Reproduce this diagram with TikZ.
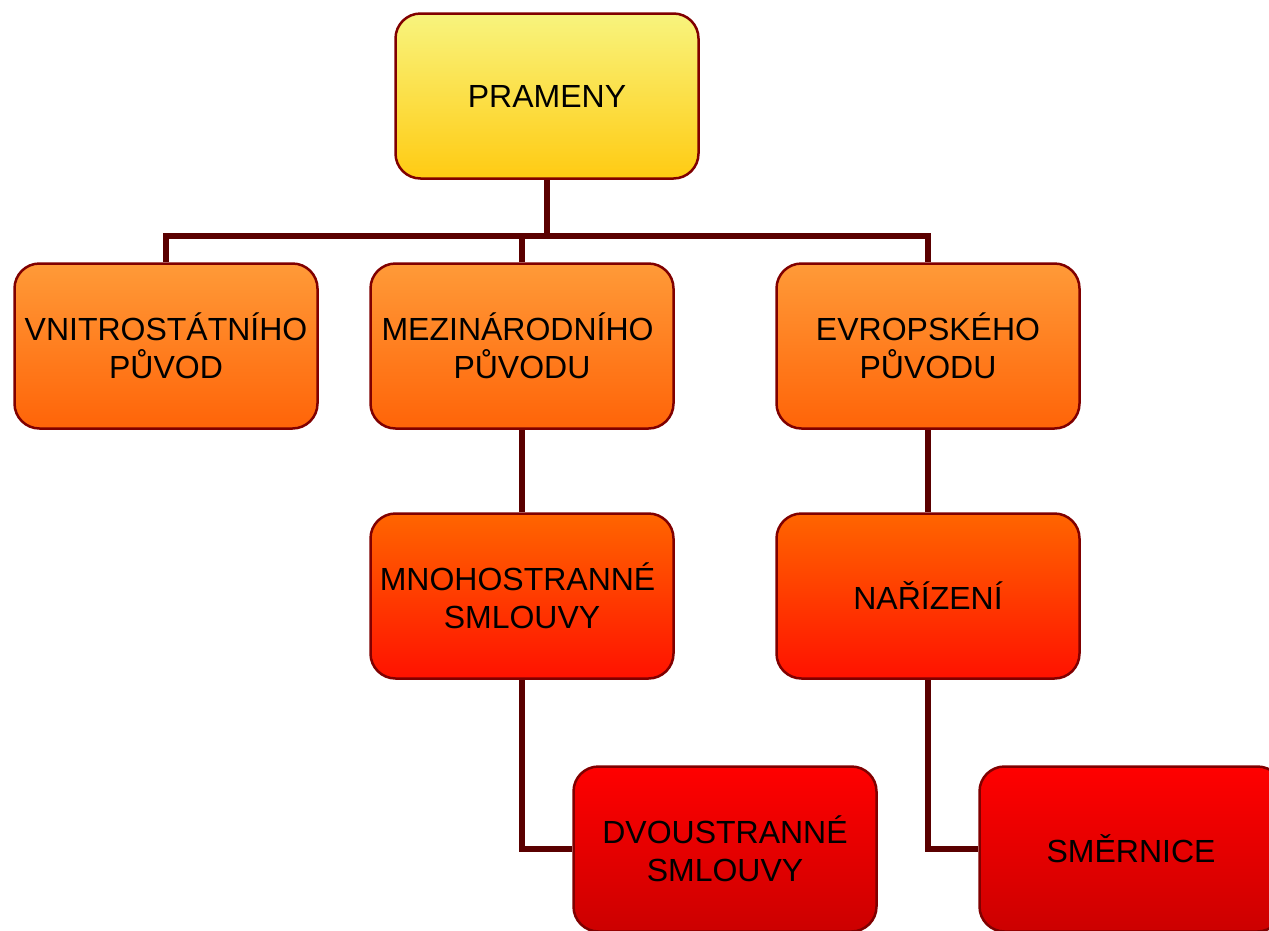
\documentclass[tikz,border=0pt]{standalone}
\usepackage{fontspec}
\setmainfont{Liberation Sans}
\usepackage{tikz}
\usepackage{xcolor}
\usetikzlibrary{backgrounds}
\definecolor{boxline}{HTML}{800000}
\definecolor{linkcol}{HTML}{5A0000}
\definecolor{zerotop}{HTML}{F8F47E}
\definecolor{zerobot}{HTML}{FFCB12}
\definecolor{onetop}{HTML}{FF9A38}
\definecolor{onebot}{HTML}{FF6408}
\definecolor{twotop}{HTML}{FF6500}
\definecolor{twobot}{HTML}{FF1200}
\definecolor{threetop}{HTML}{FF0000}
\definecolor{threebot}{HTML}{CC0000}
\tikzset{box/.style={draw=boxline, line width=2.5pt, rounded corners=25pt,
   minimum width=303pt, minimum height=165pt, inner sep=0pt, align=center,
   font=\fontsize{32}{38}\selectfont},
 lvlzero/.style={box, top color=zerotop, bottom color=zerobot},
 lvlone/.style={box, top color=onetop, bottom color=onebot},
 lvltwo/.style={box, top color=twotop, bottom color=twobot},
 lvlthree/.style={box, top color=threetop, bottom color=threebot},
 link/.style={draw=linkcol, line width=6pt},
 }

\begin{document}
\begin{tikzpicture}[x=1pt, y=-1pt]
        \useasboundingbox (0,0) rectangle (1269,930);
        \clip (0,0) rectangle (1269,930);
        \node[lvlzero] (pram) at (547, 96) {PRAMENY};
        \node[lvlone] (vni) at (166, 346) {VNITROSTÁTNÍHO\\PŮVOD};
        \node[lvlone] (mez) at (522, 346) {MEZINÁRODNÍHO\hphantom{ }\\PŮVODU};
        \node[lvlone] (evr) at (928, 346) {EVROPSKÉHO\\PŮVODU};
        \node[lvltwo] (mno) at (522, 596) {MNOHOSTRANNÉ\hphantom{ }\\SMLOUVY};
        \node[lvltwo] (nar) at (928, 596) {NAŘÍZENÍ};
        \node[lvlthree] (dvo) at (725, 849) {DVOUSTRANNÉ\\SMLOUVY};
        \node[lvlthree] (sme) at (1131, 849) {SMĚRNICE};
        \coordinate (hub) at (547, 236);
        \begin{scope}[on background layer]
        \draw[link] (pram.south) -- (hub);
        \draw[link] (vni.north) |- (hub) -| (evr.north);
        \draw[link] (mez.north) -- (mez.north |- hub);
        \draw[link] (mez.south) -- (mno.north);
        \draw[link] (evr.south) -- (nar.north);
        \draw[link] (mno.south) |- (dvo.west);
        \draw[link] (nar.south) |- (sme.west);
        \end{scope}
    \end{tikzpicture}
\end{document}
